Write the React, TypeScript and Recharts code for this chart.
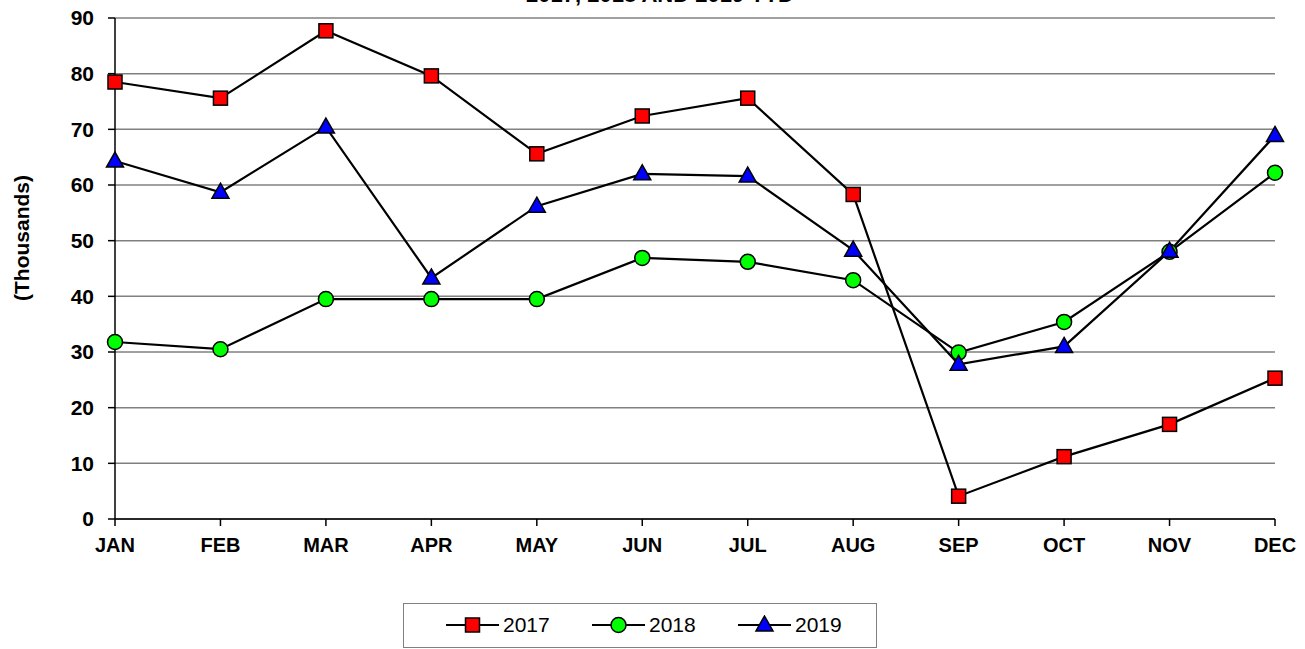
import { LineChart, Line, XAxis, YAxis, CartesianGrid } from "recharts";

const MONTHS = ["JAN", "FEB", "MAR", "APR", "MAY", "JUN", "JUL", "AUG", "SEP", "OCT", "NOV", "DEC"];
const Y2017 = [78.5, 75.6, 87.7, 79.6, 65.6, 72.4, 75.6, 58.3, 4.1, 11.2, 17.0, 25.3];
const Y2018 = [31.8, 30.5, 39.5, 39.5, 39.5, 46.9, 46.2, 42.9, 29.9, 35.4, 48.0, 62.2];
const Y2019 = [64.3, 58.7, 70.4, 43.3, 56.2, 62.0, 61.6, 48.3, 27.8, 31.0, 48.1, 68.9];
const Y_TICKS = [0, 10, 20, 30, 40, 50, 60, 70, 80, 90];

const data = MONTHS.map((m, i) => ({ month: m, a: Y2017[i], b: Y2018[i], c: Y2019[i] }));

const FONT = "'Liberation Sans', Arial, sans-serif";

const Square = ({ cx, cy }: any) => (
  <rect x={cx - 7} y={cy - 7} width={14} height={14} fill="#ff0000" stroke="#000" strokeWidth={1.5} />
);
const Circle = ({ cx, cy }: any) => (
  <circle cx={cx} cy={cy} r={7.5} fill="#00ff00" stroke="#000" strokeWidth={1.5} />
);
const Triangle = ({ cx, cy }: any) => (
  <polygon points={`${cx},${cy - 9} ${cx + 8.5},${cy + 6} ${cx - 8.5},${cy + 6}`} fill="#0000ff" stroke="#000" strokeWidth={1.5} />
);

// legend entries: icon start x inside the page
const legendItems = [
  { name: "2017", Icon: Square, x: 446 },
  { name: "2018", Icon: Circle, x: 592 },
  { name: "2019", Icon: Triangle, x: 738 },
];

export default function App() {
  return (
    <div style={{ position: "absolute", left: 0, top: 0, width: 1305, height: 649, fontFamily: FONT, background: "#fff", overflow: "hidden" }}>
      <div style={{ position: "absolute", left: 660, top: -18, transform: "translateX(-50%)", fontWeight: "bold", fontSize: 22, whiteSpace: "nowrap" }}>
        2017, 2018 AND 2019 YTD
      </div>
      <div
        style={{
          position: "absolute", left: 22, top: 238, transform: "translate(-50%, -50%) rotate(-90deg)",
          fontWeight: "bold", fontSize: 21, whiteSpace: "nowrap",
        }}
      >
        (Thousands)
      </div>
      <LineChart width={1305} height={649} data={data} margin={{ top: 18, right: 30, bottom: 100, left: 0 }}>
        <CartesianGrid vertical={false} stroke="#808080" strokeWidth={1.5} />
        <XAxis
          dataKey="month"
          stroke="#000"
          strokeWidth={1.5}
          tickSize={7}
          tickMargin={12}
          interval={0}
          tick={{ fill: "#000", fontWeight: "bold", fontSize: 20, fontFamily: FONT }}
        />
        <YAxis
          width={115}
          domain={[0, 90]}
          ticks={Y_TICKS}
          stroke="#000"
          strokeWidth={1.5}
          tickSize={7}
          tickMargin={14}
          tick={{ fill: "#000", fontWeight: "bold", fontSize: 21, fontFamily: FONT }}
        />
        <Line dataKey="a" stroke="#000" strokeWidth={2.2} dot={<Square />} isAnimationActive={false} />
        <Line dataKey="b" stroke="#000" strokeWidth={2.2} dot={<Circle />} isAnimationActive={false} />
        <Line dataKey="c" stroke="#000" strokeWidth={2.2} dot={<Triangle />} isAnimationActive={false} />
      </LineChart>
      <div
        style={{
          position: "absolute", left: 403, top: 603, width: 474, height: 45, border: "1px solid #808080",
          boxSizing: "border-box",
        }}
      />
      {legendItems.map(({ name, Icon, x }) => (
        <div key={name} style={{ position: "absolute", left: x, top: 613, height: 24, display: "flex", alignItems: "center", gap: 4, fontSize: 21 }}>
          <svg width={53} height={20}>
            <line x1={0} y1={10} x2={53} y2={10} stroke="#000" strokeWidth={2.2} />
            <Icon cx={26.5} cy={10} />
          </svg>
          <span>{name}</span>
        </div>
      ))}
    </div>
  );
}
